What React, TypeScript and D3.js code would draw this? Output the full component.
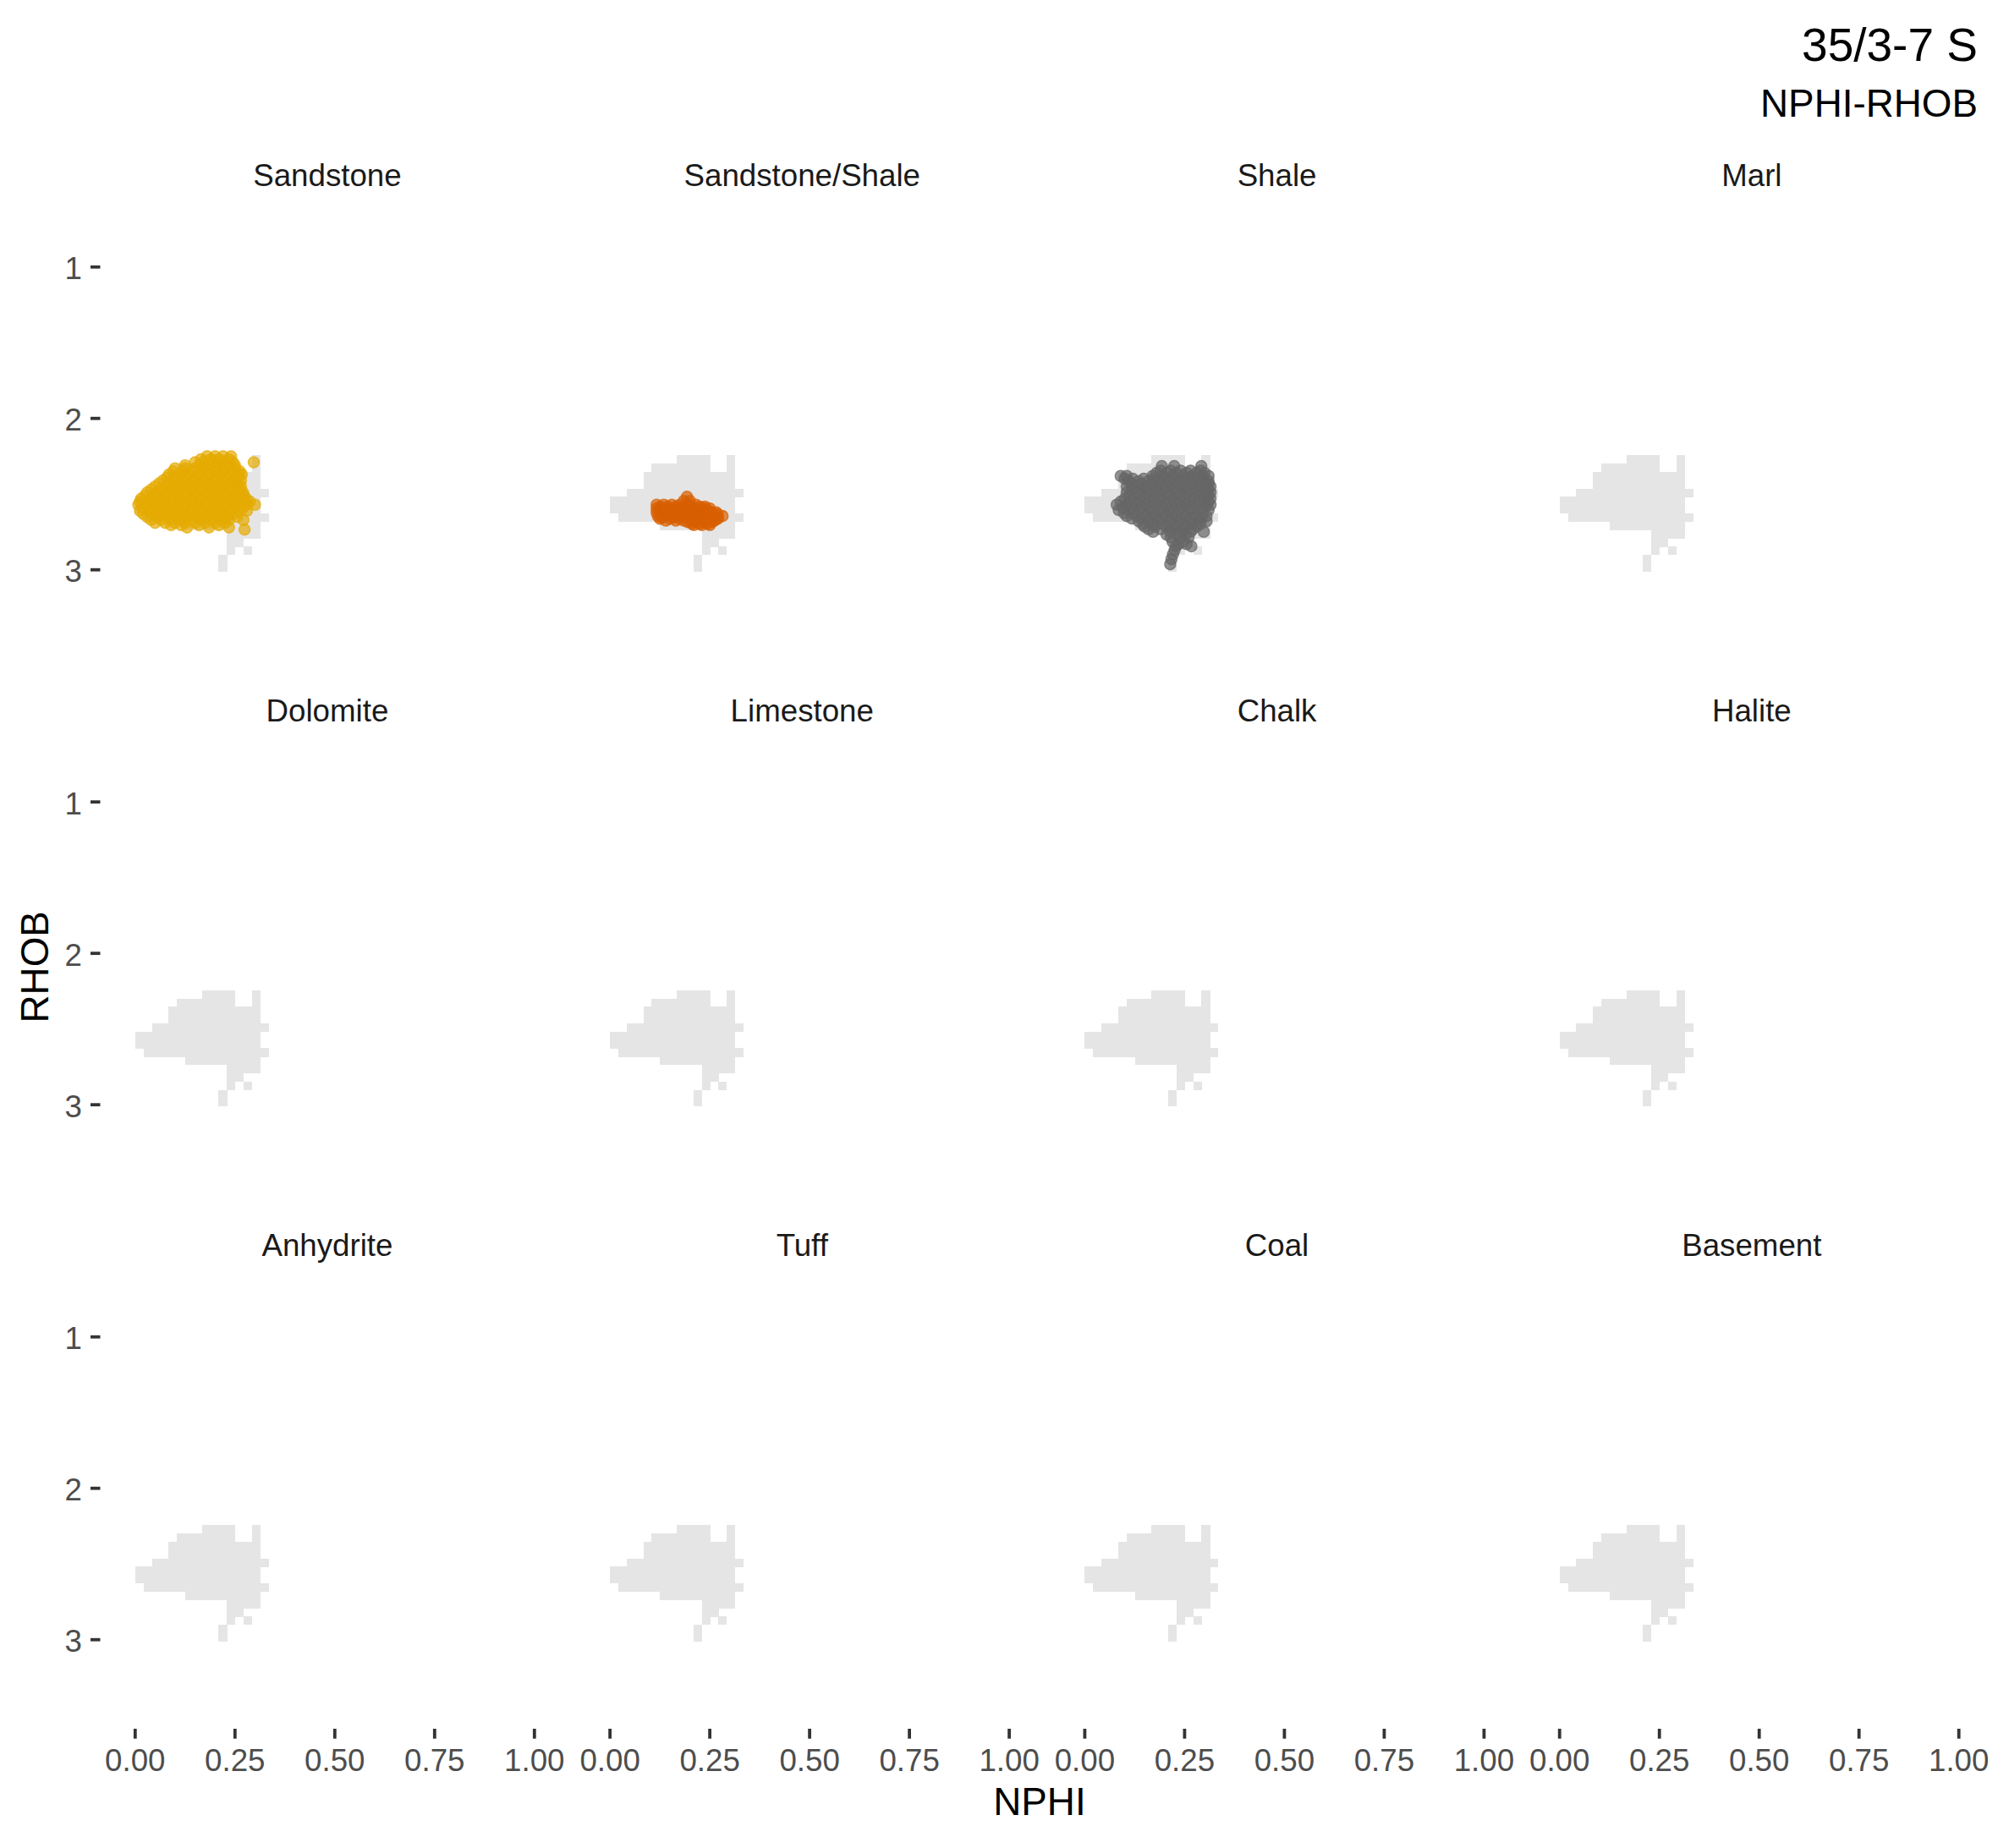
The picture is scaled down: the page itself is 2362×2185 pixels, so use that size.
import React from "react";
import * as d3 from "d3";

// ---------- data ----------
const facets = [
  "Sandstone", "Sandstone/Shale", "Shale", "Marl",
  "Dolomite", "Limestone", "Chalk", "Halite",
  "Anhydrite", "Tuff", "Coal", "Basement",
];

const xTicks = [0, 0.25, 0.5, 0.75, 1];
const yTicks = [1, 2, 3];

// background bins of all data (grey), runs of bin columns per bin row
const binWidthNphi = 0.02088;
const binHeightRhob = 0.0548;
const binTopRhob = 2.2436;
const binRuns: [number, number, number][] = [
  [0, 8, 11], [0, 14, 14],
  [1, 5, 11], [1, 14, 14],
  [2, 4, 14],
  [3, 4, 14],
  [4, 2, 15],
  [5, 0, 14],
  [6, 0, 14],
  [7, 1, 15],
  [8, 6, 14],
  [9, 11, 14],
  [10, 11, 12],
  [11, 11, 11], [11, 13, 13],
  [12, 10, 10],
  [13, 10, 10],
];

// points: [RHOB, NPHI values]
const sandstonePts: [number, number[]][] = [
  [2.25, [0.18, 0.2, 0.22, 0.24]],
  [2.27, [0.165, 0.19, 0.21, 0.235]],
  [2.29, [0.15, 0.17, 0.195, 0.22, 0.245, 0.297]],
  [2.31, [0.125, 0.16, 0.185, 0.21, 0.235, 0.25]],
  [2.33, [0.1, 0.125, 0.15, 0.175, 0.2, 0.225, 0.25]],
  [2.35, [0.095, 0.12, 0.145, 0.17, 0.195, 0.22, 0.245, 0.262]],
  [2.37, [0.085, 0.11, 0.135, 0.16, 0.185, 0.21, 0.235, 0.26, 0.267]],
  [2.39, [0.08, 0.105, 0.13, 0.155, 0.18, 0.205, 0.23, 0.255]],
  [2.41, [0.07, 0.095, 0.12, 0.145, 0.17, 0.195, 0.22, 0.245, 0.265]],
  [2.43, [0.06, 0.085, 0.11, 0.135, 0.16, 0.185, 0.21, 0.235, 0.258]],
  [2.45, [0.05, 0.075, 0.1, 0.125, 0.15, 0.175, 0.2, 0.225, 0.25, 0.265]],
  [2.47, [0.04, 0.065, 0.09, 0.115, 0.14, 0.165, 0.19, 0.215, 0.24, 0.262]],
  [2.49, [0.03, 0.055, 0.08, 0.105, 0.13, 0.155, 0.18, 0.205, 0.23, 0.255, 0.27]],
  [2.51, [0.025, 0.05, 0.075, 0.1, 0.125, 0.15, 0.175, 0.2, 0.225, 0.25, 0.272]],
  [2.53, [0.015, 0.04, 0.065, 0.09, 0.115, 0.14, 0.165, 0.19, 0.215, 0.24, 0.265, 0.278]],
  [2.55, [0.012, 0.04, 0.065, 0.09, 0.115, 0.14, 0.165, 0.19, 0.215, 0.24, 0.265, 0.287]],
  [2.57, [0.008, 0.03, 0.055, 0.08, 0.105, 0.13, 0.155, 0.18, 0.205, 0.23, 0.255, 0.28, 0.3]],
  [2.59, [0.02, 0.045, 0.07, 0.095, 0.12, 0.145, 0.17, 0.195, 0.22, 0.245, 0.27]],
  [2.61, [0.012, 0.035, 0.06, 0.085, 0.11, 0.135, 0.16, 0.185, 0.21, 0.235, 0.26, 0.28]],
  [2.63, [0.02, 0.045, 0.07, 0.095, 0.12, 0.145, 0.17, 0.195, 0.22, 0.245]],
  [2.65, [0.03, 0.055, 0.08, 0.105, 0.13, 0.155, 0.18, 0.205, 0.23, 0.255]],
  [2.67, [0.04, 0.065, 0.09, 0.115, 0.14, 0.165, 0.19, 0.215, 0.235, 0.271]],
  [2.69, [0.05, 0.075, 0.1, 0.125, 0.15, 0.175, 0.2, 0.225]],
  [2.705, [0.09, 0.115, 0.16, 0.21]],
  [2.72, [0.13, 0.185, 0.235]],
  [2.734, [0.274]],
];

const sandShalePts: [number, number[]][] = [
  [2.518, [0.193]],
  [2.545, [0.185, 0.2]],
  [2.57, [0.117, 0.135, 0.155, 0.175, 0.195, 0.215]],
  [2.583, [0.126, 0.145, 0.165, 0.185, 0.205, 0.225, 0.238]],
  [2.595, [0.117, 0.135, 0.155, 0.175, 0.195, 0.215, 0.235, 0.25]],
  [2.608, [0.126, 0.145, 0.165, 0.185, 0.205, 0.225, 0.245]],
  [2.62, [0.117, 0.135, 0.155, 0.175, 0.195, 0.215, 0.235, 0.255, 0.266]],
  [2.633, [0.128, 0.148, 0.168, 0.188, 0.208, 0.228, 0.248, 0.27]],
  [2.645, [0.12, 0.14, 0.16, 0.18, 0.2, 0.22, 0.24, 0.26, 0.282]],
  [2.655, [0.13, 0.16, 0.19, 0.21, 0.23, 0.25, 0.27]],
  [2.663, [0.125, 0.15, 0.175, 0.2, 0.225, 0.25, 0.27]],
  [2.675, [0.14, 0.165, 0.185, 0.205, 0.225, 0.245, 0.262]],
  [2.685, [0.195, 0.215, 0.235, 0.255]],
  [2.695, [0.205, 0.225, 0.245]],
  [2.704, [0.21, 0.23, 0.25]],
];

const shalePts: [number, number[]][] = [
  [2.315, [0.193, 0.224, 0.292]],
  [2.345, [0.19, 0.215, 0.24, 0.265, 0.29]],
  [2.36, [0.18, 0.205, 0.23, 0.255, 0.28, 0.3]],
  [2.38, [0.09, 0.105, 0.17, 0.195, 0.22, 0.245, 0.27, 0.295, 0.31]],
  [2.398, [0.1, 0.12, 0.148, 0.172, 0.198, 0.222, 0.248, 0.272, 0.298]],
  [2.415, [0.11, 0.135, 0.16, 0.185, 0.21, 0.235, 0.26, 0.285, 0.31]],
  [2.432, [0.118, 0.142, 0.168, 0.192, 0.218, 0.242, 0.268, 0.292, 0.31]],
  [2.45, [0.105, 0.13, 0.155, 0.18, 0.205, 0.23, 0.255, 0.28, 0.305, 0.315]],
  [2.47, [0.118, 0.142, 0.168, 0.192, 0.218, 0.242, 0.268, 0.292, 0.31]],
  [2.49, [0.105, 0.13, 0.155, 0.18, 0.205, 0.23, 0.255, 0.28, 0.305, 0.315]],
  [2.51, [0.112, 0.138, 0.162, 0.188, 0.212, 0.238, 0.262, 0.288, 0.31]],
  [2.53, [0.1, 0.125, 0.15, 0.175, 0.2, 0.225, 0.25, 0.275, 0.3, 0.315]],
  [2.55, [0.09, 0.112, 0.138, 0.162, 0.188, 0.212, 0.238, 0.262, 0.288, 0.31]],
  [2.57, [0.08, 0.105, 0.13, 0.155, 0.18, 0.205, 0.23, 0.255, 0.28, 0.305, 0.315]],
  [2.588, [0.095, 0.118, 0.142, 0.168, 0.192, 0.218, 0.242, 0.268, 0.295]],
  [2.605, [0.085, 0.11, 0.135, 0.16, 0.185, 0.21, 0.235, 0.26, 0.285, 0.31]],
  [2.625, [0.098, 0.12, 0.145, 0.17, 0.195, 0.22, 0.245, 0.27, 0.295]],
  [2.645, [0.105, 0.13, 0.155, 0.18, 0.205, 0.23, 0.255, 0.28, 0.305]],
  [2.662, [0.118, 0.142, 0.168, 0.192, 0.218, 0.242, 0.268, 0.292]],
  [2.68, [0.135, 0.16, 0.185, 0.21, 0.235, 0.26, 0.285, 0.305]],
  [2.698, [0.145, 0.17, 0.195, 0.22, 0.245, 0.27, 0.29]],
  [2.715, [0.15, 0.175, 0.205, 0.23, 0.255, 0.28]],
  [2.732, [0.16, 0.19, 0.22, 0.245, 0.27]],
  [2.749, [0.171, 0.215, 0.24, 0.265, 0.298]],
  [2.767, [0.205, 0.23, 0.252]],
  [2.785, [0.215, 0.24, 0.26]],
  [2.815, [0.22, 0.245]],
  [2.83, [0.235, 0.255]],
  [2.845, [0.228, 0.267]],
  [2.87, [0.225]],
  [2.898, [0.221]],
  [2.93, [0.217]],
  [2.963, [0.214]],
];

const pointSeries: Record<string, { pts: [number, number[]][]; color: string }> = {
  "Sandstone": { pts: sandstonePts, color: "#E6AB02" },
  "Sandstone/Shale": { pts: sandShalePts, color: "#D95F02" },
  "Shale": { pts: shalePts, color: "#666666" },
};

const title = "35/3-7 S";
const subtitle = "NPHI-RHOB";
const xTitle = "NPHI";
const yTitle = "RHOB";

// ---------- layout ----------
const W = 2362;
const H = 2185;
const X0 = 159.8;
const XUNIT = 472;
const COLSTEP = 561.3;
const PANEL_LEFT = 117.8;
const PANEL_W = 538.3;
const Y1 = 315.7;
const Y3 = 673.7;
const ROWSTEP = 632.5;
const FONT = "'Liberation Sans', Arial, Helvetica, sans-serif";

const xScaleFor = (c: number) =>
  d3.scaleLinear().domain([0, 1]).range([X0 + c * COLSTEP, X0 + XUNIT + c * COLSTEP]);
const yScaleFor = (r: number) =>
  d3.scaleLinear().domain([1, 3]).range([Y1 + r * ROWSTEP, Y3 + r * ROWSTEP]);

const fmtX = d3.format(".2f");

export default function App() {
  const panels = facets.map((name, i) => {
    const c = i % 4;
    const r = Math.floor(i / 4);
    const xs = xScaleFor(c);
    const ys = yScaleFor(r);
    const cells: React.ReactElement[] = [];
    binRuns.forEach(([row, from, to], ri) => {
      for (let k = from; k <= to; k++) {
        const x0 = xs(k * binWidthNphi);
        const x1 = xs((k + 1) * binWidthNphi);
        const y0 = ys(binTopRhob + row * binHeightRhob);
        const y1 = ys(binTopRhob + (row + 1) * binHeightRhob);
        cells.push(
          <rect key={`b${ri}-${k}`} x={x0} y={y0} width={x1 - x0 + 0.3} height={y1 - y0 + 0.3}
            fill="#E5E5E5" shapeRendering="crispEdges" />
        );
      }
    });
    const series = pointSeries[name];
    const dots: React.ReactElement[] = [];
    if (series) {
      series.pts.forEach(([rho, nphis], ri) => {
        nphis.forEach((nv, j) => {
          dots.push(
            <circle key={`p${ri}-${j}`} cx={xs(nv)} cy={ys(rho)} r={6.6}
              fill={series.color} fillOpacity={0.7}
              stroke={series.color} strokeOpacity={0.7} strokeWidth={1.4} />
          );
        });
      });
    }
    const cx = PANEL_LEFT + c * COLSTEP + PANEL_W / 2;
    return (
      <g key={name}>
        <text x={cx} y={220} textAnchor="middle" fontSize={36.7}
          transform={`translate(0,${r * ROWSTEP})`}
          fill="#1A1A1A" fontFamily={FONT}>{name}</text>
        {cells}
        {dots}
        {c === 0 && yTicks.map((t) => (
          <g key={`yt${t}`}>
            <line x1={107} x2={118.5} y1={ys(t)} y2={ys(t)} stroke="#333333" strokeWidth={3.8} />
            <text x={97} y={ys(t) + 14.5} textAnchor="end" fontSize={36.7} fill="#4D4D4D"
              fontFamily={FONT}>{t}</text>
          </g>
        ))}
        {r === 2 && xTicks.map((t) => (
          <g key={`xt${t}`}>
            <line x1={xs(t)} x2={xs(t)} y1={2044} y2={2055.7} stroke="#333333" strokeWidth={3.8} />
            <text x={xs(t)} y={2094} textAnchor="middle" fontSize={36.7} fill="#4D4D4D"
              fontFamily={FONT}>{fmtX(t)}</text>
          </g>
        ))}
      </g>
    );
  });

  return (
    <svg width={W} height={H} style={{ position: "absolute", left: 0, top: 0, background: "#FFFFFF" }}>
      <rect x={0} y={0} width={W} height={H} fill="#FFFFFF" />
      <text x={2338} y={72} textAnchor="end" fontSize={55} fill="#000000" fontFamily={FONT}>{title}</text>
      <text x={2338} y={138.3} textAnchor="end" fontSize={45.8} fill="#000000" fontFamily={FONT}>{subtitle}</text>
      {panels}
      <text x={1228.9} y={2145.7} textAnchor="middle" fontSize={45.8} fill="#000000" fontFamily={FONT}>{xTitle}</text>
      <text transform="translate(57.3,1143.3) rotate(-90)" textAnchor="middle" fontSize={45.8}
        fill="#000000" fontFamily={FONT}>{yTitle}</text>
    </svg>
  );
}
